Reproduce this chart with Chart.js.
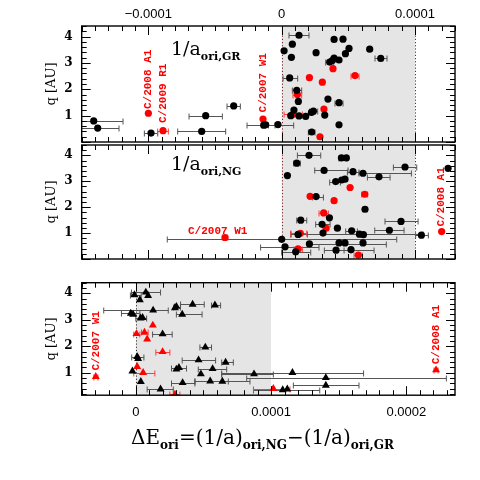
<!DOCTYPE html>
<html lang="en">
<head>
  <meta charset="UTF-8" />
  <title>Delta E ori vs q</title>
  <script src="https://cdn.jsdelivr.net/npm/chart.js"></script>
  <style>
    body {
      margin: 0;
      width: 480px;
      height: 480px;
      position: relative;
      background: #fff;
      overflow: hidden;
    }
    canvas { position: absolute; left: 0; }
    .tag {
      position: absolute;
      font-family: 'DejaVu Serif', serif;
      font-size: 19px;
      line-height: 19px;
      color: #000;
      white-space: nowrap;
    }
    .tag sub {
      font-size: 11px;
      font-weight: bold;
      vertical-align: -5px;
      line-height: 0;
    }
  </style>
</head>
<body>

  <canvas id="grChart" width="480" height="146" style="top:0"></canvas>
  <canvas id="ngChart" width="480" height="122" style="top:141px"></canvas>
  <canvas id="deChart" width="480" height="162" style="top:278px"></canvas>

  <div class="tag" style="left:171px;top:39px">1/a<sub>ori,GR</sub></div>
  <div class="tag" style="left:171px;top:154px">1/a<sub>ori,NG</sub></div>
  <div class="tag" style="left:131px;top:428px;font-size:20px">&Delta;E<sub style="font-size:12px">ori</sub>=(1/a)<sub style="font-size:12px">ori,NG</sub>&minus;(1/a)<sub style="font-size:12px">ori,GR</sub></div>

  <script>
    // x in units of 1e-5 AU^-1, q in AU
    // rows: [x, q, errLow, errHigh]  (null = no error bar)
    const grBlack = [
      [-14.1, 0.80, -15.5, -11.9], [-13.8, 0.53, -15.3, -12.2], [-9.8, 0.34, -10.3, -9.3],
      [-5.7, 1.00, -6.95, -4.45], [-6.0, 0.40, -7.8, -4.2], [-3.6, 1.37, -4.1, -3.1],
      [-1.35, 0.64, -2.6, -0.5], [-1.2, 0.65, null, null], [-0.28, 0.66, -1.0, 0.9],
      [1.30, 4.05, 0.55, 2.05], [0.80, 3.71, null, null], [0.18, 3.46, null, null],
      [0.73, 3.21, null, null], [2.58, 3.39, null, null], [3.93, 3.89, null, null],
      [4.60, 3.90, null, null], [5.05, 3.55, null, null], [4.78, 3.35, null, null],
      [6.60, 3.52, null, null], [7.43, 3.17, 7.0, 7.9], [3.60, 3.03, 3.3, 3.9],
      [3.80, 3.09, null, null], [3.93, 3.18, null, null], [4.30, 3.11, null, null],
      [0.60, 2.43, 0.1, 1.2], [1.13, 1.96, 0.8, 1.5], [1.25, 1.54, null, null],
      [3.47, 1.63, null, null], [4.30, 1.49, 4.0, 4.6], [0.92, 1.21, null, null],
      [2.23, 1.12, null, null], [2.38, 1.17, 2.1, 2.7], [0.68, 1.00, null, null],
      [1.30, 0.99, null, null], [1.80, 0.97, null, null], [3.23, 1.02, null, null],
      [4.30, 0.65, null, null], [2.25, 0.38, 2.0, 2.5]
    ];
    const grRed = [
      [-10.0, 1.09, null, null], [-8.9, 0.43, -9.3, -8.5], [-1.4, 0.87, null, null],
      [3.85, 2.78, null, null], [2.08, 2.44, null, null], [3.05, 2.27, null, null],
      [5.50, 2.52, 5.2, 5.8], [1.18, 1.80, 0.85, 1.5], [3.17, 1.25, null, null],
      [0.85, 1.05, 0.18, 1.55], [2.87, 0.20, null, null]
    ];
    const ngBlack = [
      [2.05, 4.00, 1.18, 2.93], [4.48, 3.90, 4.3, 4.9], [4.85, 3.90, null, null],
      [1.13, 3.70, 0.9, 1.4], [0.43, 3.22, null, null], [3.18, 3.42, 2.48, 4.98],
      [5.35, 3.37, 4.93, 5.8], [6.10, 3.31, 5.8, 9.73], [9.25, 3.55, 8.38, 10.13],
      [7.30, 3.17, 6.43, 8.13], [4.05, 2.99, 3.6, 4.4], [4.50, 3.05, null, null],
      [4.75, 3.08, null, null], [2.58, 2.41, 2.3, 3.13], [6.25, 1.92, 6.1, 6.4],
      [1.43, 1.50, 1.13, 1.88], [3.58, 1.59, null, null], [3.03, 1.34, 2.55, 3.63],
      [8.95, 1.45, 7.75, 10.23], [4.18, 1.19, null, null], [5.25, 1.09, 4.8, 5.68],
      [8.08, 1.11, 6.98, 9.18], [3.10, 1.00, null, null], [1.23, 0.95, 0.68, 1.93],
      [5.83, 0.96, 0.7, 10.6], [6.13, 0.94, null, null], [10.48, 0.92, 10.05, 11.0],
      [0.00, 0.76, -8.58, 8.63], [0.25, 0.47, -1.58, 2.8], [2.08, 0.58, 2.08, 7.85],
      [4.30, 0.62, null, null], [4.75, 0.62, null, null], [6.10, 0.62, null, null],
      [1.05, 0.28, 0.0, 2.18], [4.08, 0.34, 3.2, 5.2], [5.20, 0.36, 4.68, 6.93],
      [12.48, 3.50, null, null]
    ];
    const ngRed = [
      [5.13, 2.76, null, null], [2.13, 2.42, null, null], [6.23, 2.50, 6.0, 6.45],
      [3.93, 2.25, null, null], [3.15, 1.78, 2.8, 3.5], [3.33, 1.19, null, null],
      [1.40, 0.99, 0.68, 1.88], [1.23, 0.39, 0.93, 1.55], [5.75, 0.15, 5.43, 6.05],
      [-4.25, 0.83, -4.45, -4.05], [12.0, 1.06, null, null]
    ];
    const dEBlack = [
      [-0.10, 3.94, -0.4, 0.4], [0.74, 4.04, -0.32, 1.83], [0.91, 3.91, null, null],
      [0.30, 3.75, null, null], [4.20, 3.58, 3.31, 5.06], [5.85, 3.55, 5.6, 6.27],
      [2.89, 3.45, null, null], [3.00, 3.50, 2.8, 3.3], [1.28, 3.36, -2.37, 2.4],
      [3.43, 3.20, 3.0, 4.9], [-0.37, 3.24, -1.06, 0.3], [-0.20, 3.20, null, null],
      [0.35, 3.06, 0.0, 0.8], [0.50, 3.08, null, null], [1.98, 2.46, 1.24, 2.69],
      [5.14, 1.96, 4.74, 5.6], [0.10, 1.60, -0.3, 0.6], [0.17, 1.53, null, null],
      [4.64, 1.48, 3.43, 5.9], [6.64, 1.39, 6.35, 7.21], [3.19, 1.19, 2.64, 3.75],
      [3.00, 1.13, null, null], [5.68, 1.15, 4.62, 6.72], [-0.25, 1.06, null, null],
      [4.81, 0.95, null, null], [8.74, 0.95, 6.35, 10.17], [11.58, 1.00, 6.35, 16.84],
      [14.05, 0.81, 8.2, 22.96], [0.37, 0.66, null, null], [3.46, 0.62, 2.64, 4.37],
      [5.50, 0.68, 4.37, 6.84], [6.40, 0.67, 4.37, 8.44], [14.05, 0.52, 11.65, 16.5],
      [1.83, 0.38, 0.84, 2.77], [10.86, 0.35, 8.7, 13.6], [11.20, 0.38, null, null]
    ];
    const dERed = [
      [1.26, 2.79, null, null], [0.05, 2.47, -0.15, 0.3], [0.64, 2.52, 0.42, 0.91],
      [0.84, 2.27, null, null], [1.98, 1.79, 1.48, 2.52], [0.10, 1.23, null, null],
      [0.54, 1.00, -0.15, 1.41], [2.89, 0.18, 2.52, 3.26], [10.17, 0.40, 8.7, 11.4],
      [-2.96, 0.85, -3.1, -2.8], [22.20, 1.10, 22.05, 22.35]
    ];

    // tick labels
    const topTicks = [-10, 0, 10];
    const bottomTicks = [0, 10, 20];
    const qTicks = [1, 2, 3, 4];

    // comet names: [text, x, q, vertical]
    const grNames = [['C/2008 A1', -10.0, 1.25, true], ['C/2009 R1', -8.9, 0.72, true], ['C/2007 W1', -1.4, 1.12, true]];
    const ngNames = [['C/2007 W1', -4.8, 1.08, false], ['C/2008 A1', 12.0, 1.25, true]];
    const dENames = [['C/2007 W1', -2.9, 1.08, true], ['C/2008 A1', 22.2, 1.32, true]];

    const toPoints = rows => rows.map(([x, q, lo, hi]) => ({ x, y: q, xMin: lo, xMax: hi }));

    const fmt = v => v === 0 ? '0' : (v < 0 ? '\u2212' : '') + (Math.abs(v) * 1e-5).toFixed(4);

    // no extra room for half tick labels, the frame is fixed
    const noPad = s => { s.paddingTop = 0; s.paddingBottom = 0; s.paddingLeft = 0; s.paddingRight = 0; };

    // shading, error bars, inward ticks, frame, names
    const frame = {
      id: 'frame',
      beforeDatasetsDraw(chart, args, o) {
        const { ctx, chartArea: a, scales: { x, y } } = chart;
        ctx.save();
        ctx.beginPath();
        ctx.rect(a.left, a.top, a.width, a.height);
        ctx.clip();
        const x0 = x.getPixelForValue(0), x1 = x.getPixelForValue(o.shadeTo);
        ctx.fillStyle = '#e5e5e5';
        ctx.fillRect(x0, a.top, x1 - x0, a.height);
        ctx.strokeStyle = o.lineColor;
        ctx.lineWidth = 1;
        ctx.setLineDash([1.2, 2]);
        o.lines.forEach(v => {
          const px = Math.round(x.getPixelForValue(v)) + 0.5;
          ctx.beginPath(); ctx.moveTo(px, a.top); ctx.lineTo(px, a.bottom); ctx.stroke();
        });
        ctx.setLineDash([]);
        chart.data.datasets.forEach(ds => {
          ctx.strokeStyle = ds.errColor;
          ctx.lineWidth = 1;
          ds.data.forEach(p => {
            if (p.xMin == null) return;
            const py = Math.round(y.getPixelForValue(p.y)) + 0.5;
            const l = x.getPixelForValue(p.xMin), r = x.getPixelForValue(p.xMax);
            ctx.beginPath();
            ctx.moveTo(l, py); ctx.lineTo(r, py);
            ctx.moveTo(l, py - 3); ctx.lineTo(l, py + 3);
            ctx.moveTo(r, py - 3); ctx.lineTo(r, py + 3);
            ctx.stroke();
          });
        });
        ctx.restore();
      },
      afterDatasetsDraw(chart, args, o) {
        const { ctx, chartArea: a, scales: { x, y } } = chart;
        ctx.save();
        ctx.strokeStyle = '#000';
        ctx.lineWidth = 1;
        ctx.beginPath();
        for (let v = Math.ceil(x.min); v <= x.max; v++) {
          const px = Math.round(x.getPixelForValue(v)) + 0.5;
          const len = v % 10 === 0 ? 9 : 5;
          ctx.moveTo(px, a.top); ctx.lineTo(px, a.top + len);
          ctx.moveTo(px, a.bottom); ctx.lineTo(px, a.bottom - len);
        }
        for (let i = Math.ceil(y.min * 5); i <= y.max * 5; i++) {
          const py = Math.round(y.getPixelForValue(i / 5)) + 0.5;
          const len = i % 5 === 0 ? 9 : 5;
          ctx.moveTo(a.left, py); ctx.lineTo(a.left + len, py);
          ctx.moveTo(a.right, py); ctx.lineTo(a.right - len, py);
        }
        ctx.stroke();
        ctx.lineWidth = 1.4;
        ctx.strokeRect(a.left, a.top, a.width, a.height);

        ctx.fillStyle = '#ff0000';
        ctx.font = 'bold 11px "Liberation Mono", monospace';
        o.names.forEach(([text, v, q, vertical]) => {
          const px = x.getPixelForValue(v), py = y.getPixelForValue(q);
          ctx.save();
          ctx.translate(px, py);
          if (vertical) {
            ctx.rotate(-Math.PI / 2);
            ctx.textAlign = 'left';
          } else {
            ctx.textAlign = 'center';
          }
          ctx.textBaseline = 'middle';
          ctx.fillText(text, 0, 0);
          ctx.restore();
        });
        ctx.restore();
      }
    };

    function series(rows, color, style, radius) {
      return {
        data: toPoints(rows),
        pointStyle: style,
        pointRadius: radius,
        backgroundColor: color,
        borderColor: color,
        borderWidth: 0,
        errColor: color === '#000' ? '#555' : '#ff3b3b'
      };
    }

    function makeChart(id, cfg) {
      const xScale = {
        min: cfg.xMin,
        max: cfg.xMax,
        display: cfg.xPos !== null,
        position: cfg.xPos || 'bottom',
        afterFit: s => { s.height = cfg.xHeight; noPad(s); },
        afterBuildTicks: s => { s.ticks = cfg.xTicks.map(v => ({ value: v })); },
        grid: { display: false, drawTicks: false },
        border: { display: false },
        ticks: {
          padding: cfg.xPad, color: '#000', maxRotation: 0, autoSkip: false,
          font: { family: 'Liberation Sans', size: 13 },
          callback: fmt
        }
      };
      return new Chart(document.getElementById(id), {
        type: 'scatter',
        data: { datasets: cfg.datasets },
        options: {
          responsive: false,
          animation: false,
          events: [],
          layout: { padding: cfg.padding },
          plugins: {
            legend: { display: false },
            tooltip: { enabled: false },
            frame: cfg.frame
          },
          scales: {
            x: xScale,
            y: {
              min: cfg.qMin,
              max: 4.4,
              afterFit: s => { s.width = 41.7; noPad(s); },
              afterBuildTicks: s => { s.ticks = qTicks.map(v => ({ value: v })); },
              grid: { display: false, drawTicks: false },
              border: { display: false },
              ticks: { padding: 9, color: '#000', font: { family: 'DejaVu Serif', weight: 'bold', size: 12 } },
              title: {
                display: true, text: 'q [AU]', color: '#000',
                font: { family: 'DejaVu Serif', size: 13 },
                padding: { top: 4, bottom: 4 }
              }
            }
          }
        },
        plugins: [frame]
      });
    }

    makeChart('grChart', {
      datasets: [series(grBlack, '#000', 'circle', 3.6), series(grRed, '#ff0000', 'circle', 3.6)],
      xMin: -15, xMax: 13, xPos: 'top', xHeight: 26, xPad: 4, xTicks: topTicks,
      qMin: 0,
      padding: { left: 40, right: 25, top: 0, bottom: 3 },
      frame: { shadeTo: 10, lines: [0, 10], lineColor: '#7a1f1f', names: grNames }
    });

    makeChart('ngChart', {
      datasets: [series(ngBlack, '#000', 'circle', 3.6), series(ngRed, '#ff0000', 'circle', 3.6)],
      xMin: -15, xMax: 13, xPos: null, xHeight: 0, xPad: 0, xTicks: topTicks,
      qMin: 0,
      padding: { left: 40, right: 25, top: 2.4, bottom: 3.4 },
      frame: { shadeTo: 10, lines: [0, 10], lineColor: '#7a1f1f', names: ngNames }
    });

    makeChart('deChart', {
      datasets: [series(dEBlack, '#000', 'triangle', 4.6), series(dERed, '#ff0000', 'triangle', 4.6)],
      xMin: -4, xMax: 23.6, xPos: 'bottom', xHeight: 44.8, xPad: 9, xTicks: bottomTicks,
      qMin: 0.15,
      padding: { left: 40, right: 25, top: 4.7, bottom: 0 },
      frame: { shadeTo: 10, lines: [0], lineColor: '#333', names: dENames }
    });
  </script>
</body>
</html>
